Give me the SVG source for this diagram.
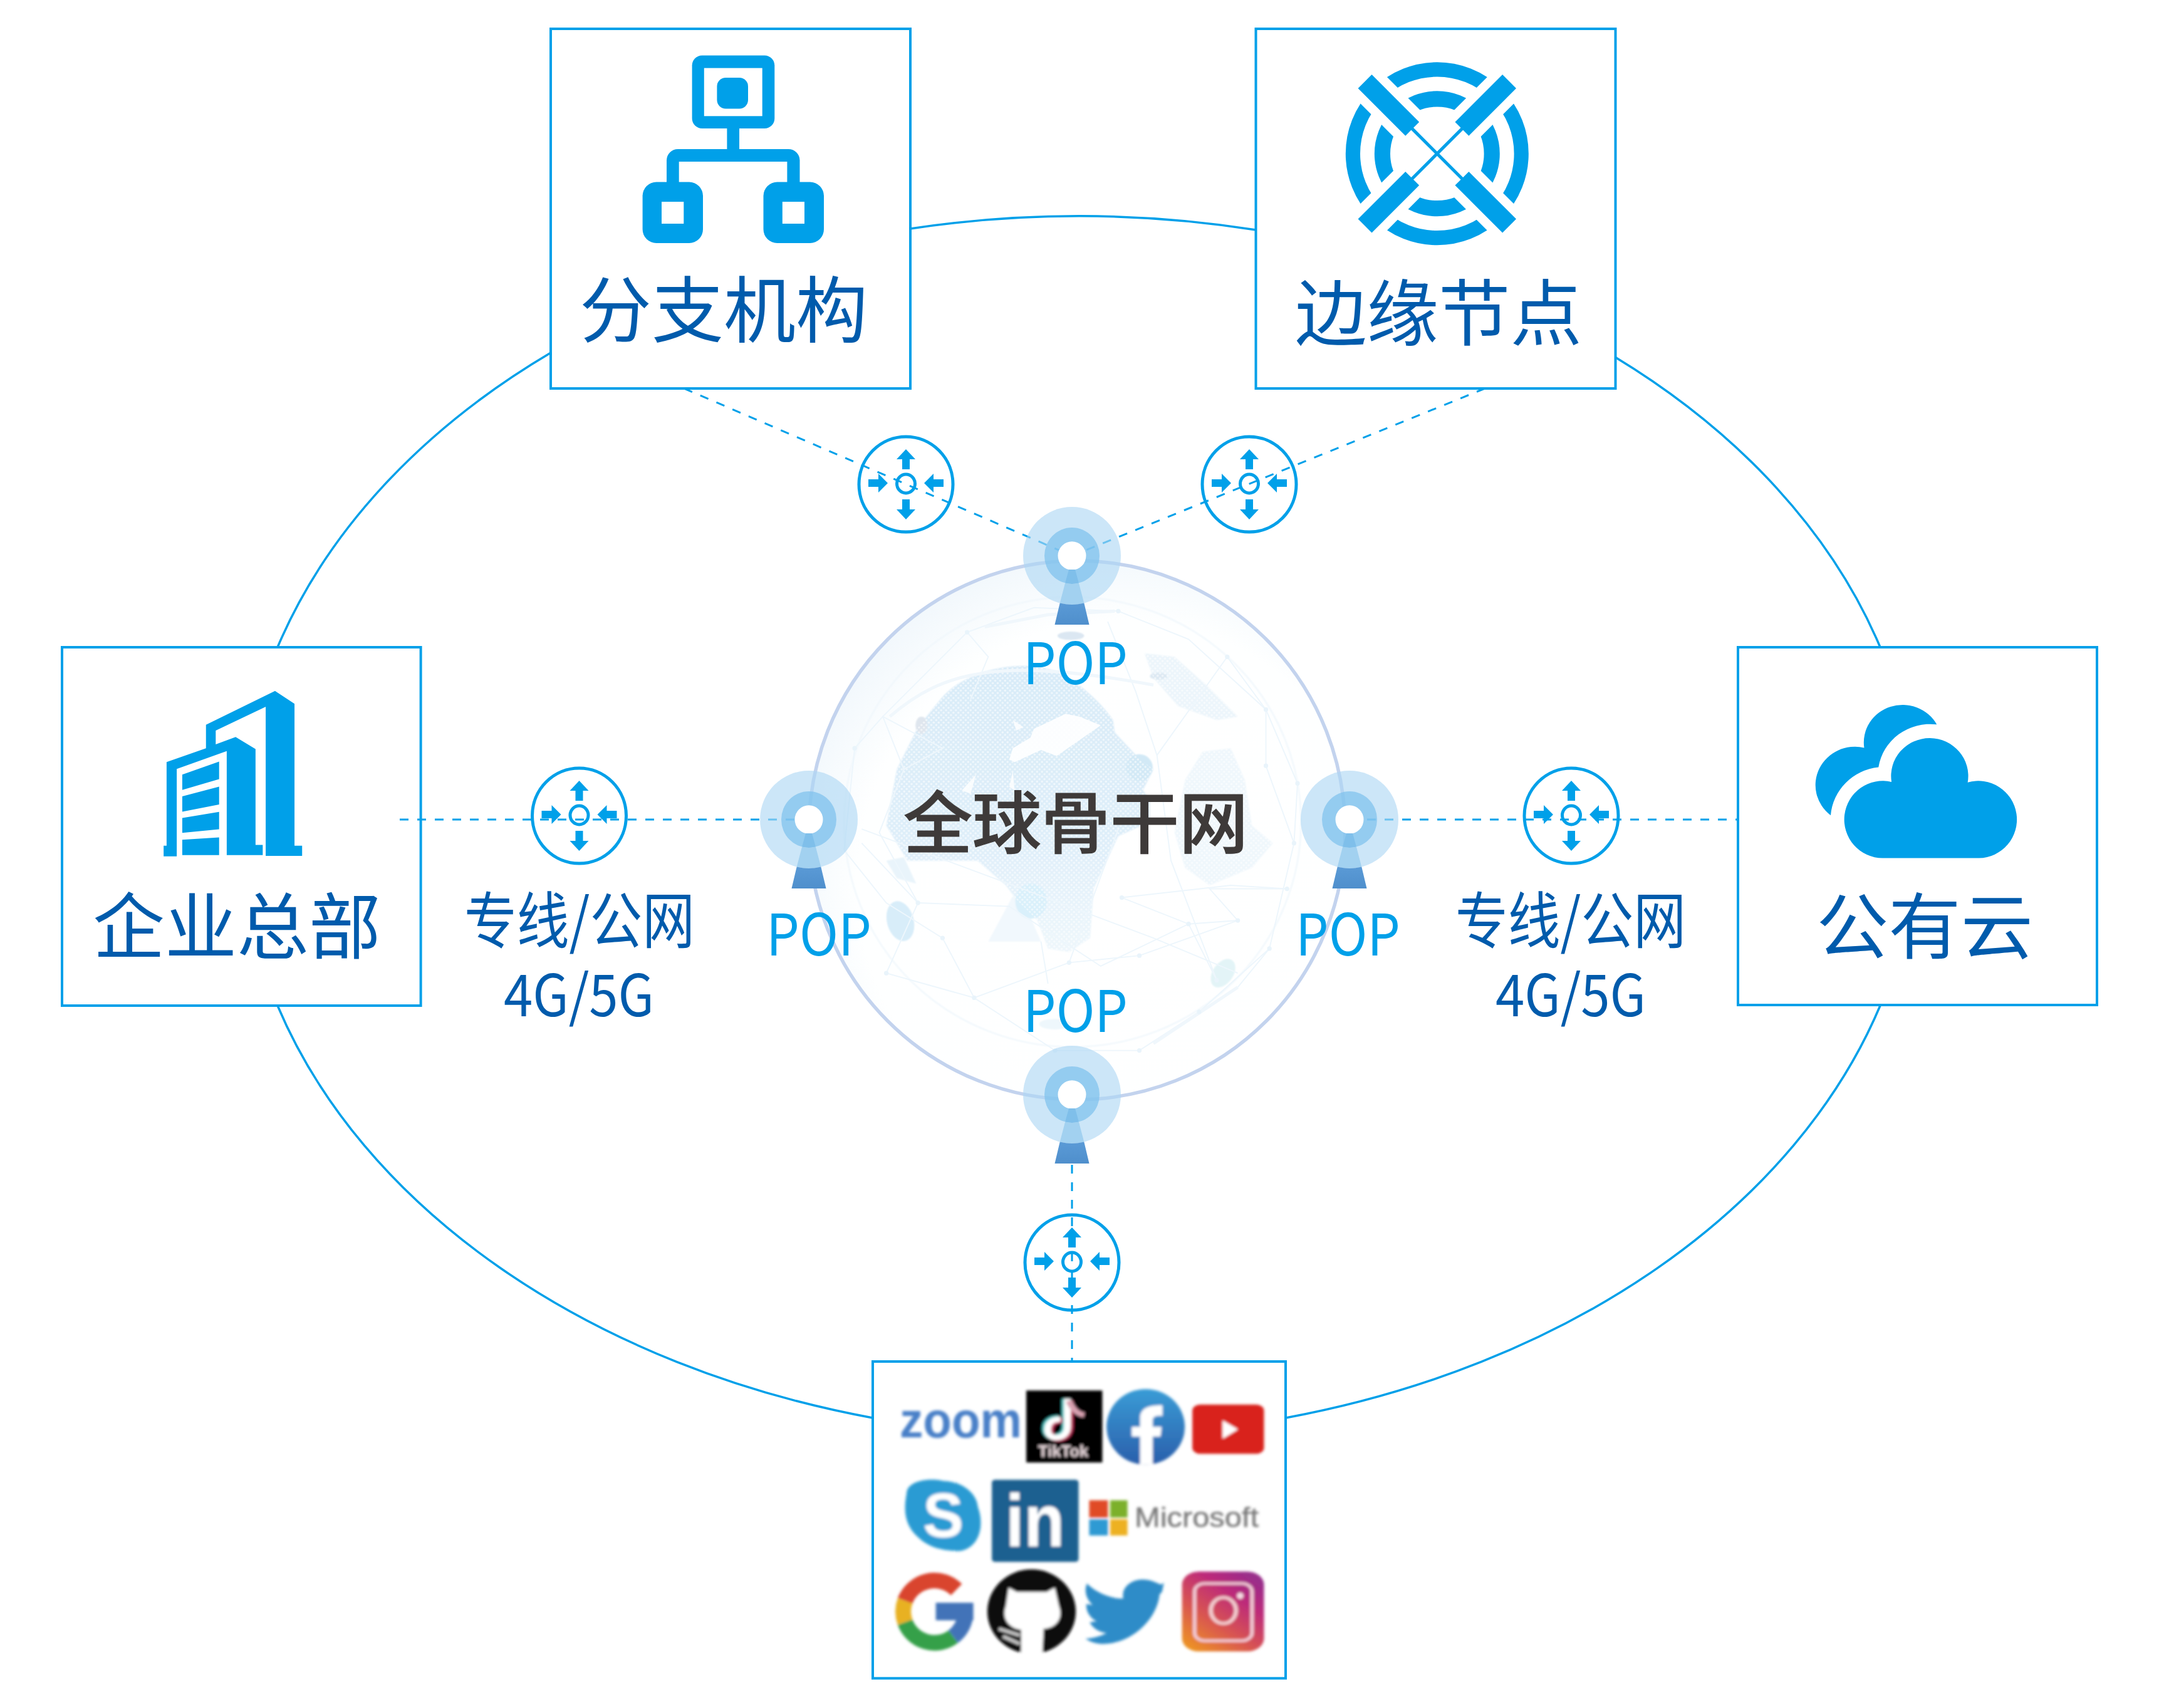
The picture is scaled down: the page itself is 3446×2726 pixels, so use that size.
<svg xmlns="http://www.w3.org/2000/svg" width="3446" height="2726" viewBox="0 0 3446 2726">
<style>
.box{fill:#fff;stroke:#00a0e9;stroke-width:4}
.line{fill:none;stroke:#00a0e9;stroke-width:3.5}
.dash{fill:none;stroke:#00a0e9;stroke-width:3;stroke-dasharray:14 14}
.ic{fill:#00a0e9}
.wh{fill:#fff}
.cjk{font-family:"Noto Sans CJK SC","Noto Sans",sans-serif}
.lab{font-size:115px;fill:#005bac}
.sub{font-size:98px;fill:#005bac}
.sub2{font-size:92px;fill:#005bac}
.pop{font-size:92px;fill:#00a0e9}
.mid{font-size:108px;fill:#3e3a39;stroke:#3e3a39;stroke-width:1.2;font-weight:500}
.logo{font-family:"Liberation Sans",Arial,sans-serif;font-weight:700}
.net{fill:none;stroke:#edf6fc;stroke-width:3.5}
.band{fill:none;stroke:#f0f7fc;stroke-width:9}
.dot{fill:none;stroke:#e9f4fb;stroke-width:13;stroke-linecap:round}
</style>
<defs>
<radialGradient id="sph" cx="0.58" cy="0.6" r="0.68">
<stop offset="0" stop-color="#fff"/><stop offset="0.72" stop-color="#feffff"/><stop offset="1" stop-color="#edf5fb"/>
</radialGradient>
<linearGradient id="landfill" x1="0" y1="0" x2="0" y2="1"><stop offset="0" stop-color="#d8ebf8"/><stop offset="0.6" stop-color="#deeef9"/><stop offset="1" stop-color="#eef7fc"/></linearGradient>
<linearGradient id="fb" x1="0" y1="0" x2="0" y2="1"><stop offset="0" stop-color="#3a9cd6"/><stop offset="1" stop-color="#2a5fab"/></linearGradient>
<linearGradient id="ig" x1="0.05" y1="1" x2="0.75" y2="0"><stop offset="0" stop-color="#ef9a1f"/><stop offset="0.4" stop-color="#d95650"/><stop offset="0.75" stop-color="#bd2a7a"/><stop offset="1" stop-color="#9a2d8a"/></linearGradient>
<linearGradient id="tw" x1="0" y1="0" x2="0" y2="1"><stop offset="0" stop-color="#5a9ad6"/><stop offset="1" stop-color="#4f8fcc"/></linearGradient>
<filter id="soft" x="-5%" y="-5%" width="110%" height="110%"><feGaussianBlur stdDeviation="2.2"/></filter>
<filter id="soft2" x="-5%" y="-5%" width="110%" height="110%"><feGaussianBlur stdDeviation="1.6"/></filter>
<pattern id="half" width="14" height="14" patternUnits="userSpaceOnUse"><circle cx="4" cy="4" r="3" fill="#fff" opacity="0.6"/><circle cx="11" cy="11" r="3" fill="#fff" opacity="0.6"/></pattern>
<g id="pin">
<ellipse rx="78" ry="78" fill="#acd7f3" opacity="0.62"/>
<ellipse rx="44" ry="45" fill="#7cc0ec" opacity="0.7"/>
<ellipse rx="22.5" ry="22.7" fill="#fff"/>
<path d="M-5 22L5 22L10.9 43.5A44 45 0 0 1 -10.9 43.5Z" fill="#7fbfea"/>
<path d="M-10.9 43.5A44 45 0 0 0 10.9 43.5L19.3 75.5A78 78 0 0 1 -19.3 75.5Z" fill="#a2d1f0"/>
<path d="M-19.3 75.5A78 78 0 0 0 19.3 75.5L27.5 110L-27.5 110Z" fill="url(#tw)"/>
</g>
<g id="router">
<ellipse rx="75" ry="76" fill="none" stroke="#00a0e9" stroke-width="5"/>
<ellipse cy="-1" rx="14.5" ry="15" fill="none" stroke="#00a0e9" stroke-width="5"/>
<path class="ic" d="M0 -56L15 -40L6 -40L6 -24L-6 -24L-6 -40L-15 -40Z"/>
<path class="ic" d="M0 56L15 40L6 40L6 24L-6 24L-6 40L-15 40Z"/>
<path class="ic" d="M-29 -2L-44 -17L-44 -8L-60 -8L-60 4L-44 4L-44 13Z"/>
<path class="ic" d="M29 -2L44 -17L44 -8L60 -8L60 4L44 4L44 13Z"/>
</g>
</defs>
<rect width="3446" height="2726" fill="#fff"/>

<g id="globe">
<ellipse cx="1719" cy="1325" rx="428" ry="430" fill="url(#sph)"/>
<g transform="translate(1280 880) scale(.561)">
<g filter="url(#soft2)">
<ellipse cx="770" cy="770" rx="650" ry="640" fill="none" stroke="#f0f7fc" stroke-width="4"/>
<path d="M395 420C450 350 600 300 720 340C790 370 860 440 885 480L890 515L960 590L1000 620L970 680L990 705L990 770L900 810L830 960L820 1100L760 1140L700 1130L670 1050L610 990L580 950L500 880L300 880L240 780L270 620L330 500Z" fill="url(#landfill)"/>
<path d="M1090 650L1140 570L1220 560L1260 650L1280 780L1340 830L1280 900L1160 950L1090 900L1060 800Z" fill="#eff7fc"/>
<path d="M975 290L1060 300L1150 380L1240 470L1180 480L1070 440L1000 360Z" fill="#ecf5fb"/>
<path d="M530 1110L600 980L650 1040L680 1110Z" fill="#f1f8fd"/>
<path d="M240 880L290 870L325 945L270 930Z" fill="#e9f4fb"/>
<ellipse cx="280" cy="1052" rx="38" ry="58" fill="#d8edf9" transform="rotate(-15 280 1052)"/>
<ellipse cx="1198" cy="1200" rx="29" ry="45" fill="#e3f4f7" transform="rotate(35 1198 1200)"/>
<ellipse cx="652" cy="995" rx="45" ry="50" fill="#d9f0fb"/>
<ellipse cx="960" cy="615" rx="38" ry="38" fill="#d2e9f6"/>
<ellipse cx="340" cy="495" rx="17" ry="25" fill="#dfe6ee"/>
<ellipse cx="765" cy="240" rx="38" ry="12" fill="#dbe7f2"/>
<ellipse cx="720" cy="1345" rx="45" ry="15" fill="#eef7fc"/>
<ellipse cx="1015" cy="355" rx="25" ry="10" fill="#dde9f3"/>
</g>
<path fill="url(#half)" d="M395 420C450 350 600 300 720 340C790 370 860 440 885 480L890 515L960 590L1000 620L970 680L990 705L990 770L900 810L830 960L820 1100L760 1140L700 1130L670 1050L610 990L580 950L500 880L300 880L240 780L270 620L330 500Z"/>
<path fill="url(#half)" d="M1090 650L1140 570L1220 560L1260 650L1280 780L1340 830L1280 900L1160 950L1090 900L1060 800Z"/>
<path fill="url(#half)" d="M975 290L1060 300L1150 380L1240 470L1180 480L1070 440L1000 360Z"/>
<path fill="#fff" opacity="0.9" d="M590 592L600 560L650 530L660 505L750 462L790 470L850 495L800 530L725 582L680 565L605 600Z"/>
<path fill="#fff" opacity="0.8" d="M600 480L630 500L610 510ZM455 680L495 635L480 690ZM590 670L600 625L605 680Z"/>
<path class="net" d="M230 470L470 230L660 160L900 170L1100 250L1320 450L1410 660L1400 830L1330 1130L1240 1240"/>
<path class="net" d="M150 560L230 470L290 620L220 800L330 1000L240 1200L490 1270L760 1170L960 1150L1240 1050"/>
<path class="net" d="M120 850L240 1000L400 1100L490 1270L720 1420L960 1420L1130 1310L1330 1130"/>
<path class="net" d="M170 790L600 950L1000 1100L1240 1200M170 830L330 1000L590 1010L850 1180L1100 1060L1240 1050L1160 960L1380 960"/>
<path class="net" d="M910 985L1100 1060L1180 1220L1050 880L1010 580L950 400L870 200M900 790L760 1170M680 1110L700 1230M910 985L1220 950L1380 960"/>
<path class="net" d="M470 230L530 300L480 420M1010 580L1210 300L1320 450L1320 610L1400 830M230 470L400 560L290 620M150 560L120 850"/>
<path class="band" d="M250 470C400 340 560 300 1000 380M520 215L700 180L890 170M1000 1400L1240 1240"/>
<path class="dot" d="M490 1270h0M760 1170h0M960 1150h0M1240 1050h0M1100 1060h0M910 985h0M1180 1220h0M1320 610h0M1410 660h0M1400 830h0M1330 1130h0M1210 300h0M1320 450h0M240 1200h0M330 1000h0M400 1100h0M720 1420h0M960 1420h0M1130 1310h0M470 230h0M900 170h0M150 560h0M1380 960h0"/>
</g>
<ellipse cx="1719" cy="1325" rx="428" ry="430" fill="none" stroke="#c3d3ee" stroke-width="5.5"/>
</g>

<g id="node-branch">
<rect class="box" x="879" y="46" width="574" height="574"/>
<rect class="ic" x="1104.6" y="88.6" width="131.7" height="116.4" rx="16"/>
<rect class="wh" x="1123.8" y="108.6" width="92.9" height="76.7"/>
<rect class="ic" x="1144.4" y="124" width="49.6" height="49.5" rx="14"/>
<path class="ic" d="M1160.4 205H1180V238H1258.5A18 18 0 0 1 1276.5 256V292H1256.4V258H1083.7V292H1064V256A18 18 0 0 1 1082 238H1160.4Z"/>
<rect class="ic" x="1025.6" y="290.6" width="96.4" height="97.4" rx="22"/>
<rect class="wh" x="1056" y="322" width="35.3" height="35"/>
<rect class="ic" x="1218.5" y="290.6" width="96.5" height="97.4" rx="22"/>
<rect class="wh" x="1248.8" y="322" width="35.2" height="35"/>
<text class="cjk lab" x="925" y="537" textLength="460" lengthAdjust="spacingAndGlyphs">分支机构</text>
</g>

<g id="node-edge">
<rect class="box" x="2004.5" y="46" width="574" height="574"/>
<g transform="translate(2293.8 245.3)">
<circle r="134.4" fill="none" stroke="#00a0e9" stroke-width="23.2"/>
<circle r="87.4" fill="none" stroke="#00a0e9" stroke-width="25.2"/>
<g transform="rotate(45)">
<rect class="wh" x="-170" y="-30" width="340" height="60"/>
<rect class="wh" x="-30" y="-170" width="60" height="340"/>
<rect class="ic" x="-163" y="-15.5" width="107" height="31"/>
<rect class="ic" x="56" y="-15.5" width="107" height="31"/>
<rect class="ic" x="-15.5" y="-163" width="31" height="107"/>
<rect class="ic" x="-15.5" y="56" width="31" height="107"/>
<rect class="ic" x="-60" y="-2.5" width="120" height="5"/>
<rect class="ic" x="-2.5" y="-60" width="5" height="120"/>
</g>
</g>
<text class="cjk lab" x="2067" y="542" textLength="458" lengthAdjust="spacingAndGlyphs">边缘节点</text>
</g>

<g id="node-hq">
<rect class="box" x="99" y="1033" width="572.6" height="572"/>
<g transform="translate(80 1020) scale(.676 .408)">
<path class="ic" d="M531 203L577 253V808H595V848H509V265L391 358V412L438 383L485 430V805H502V845H417V438L299 508V850H268V808H275V481L368 427V335Z"/>
<path class="ic" d="M312 530L399 479V548L312 590ZM312 615L399 577V647L312 675ZM312 700L399 676V744L312 758ZM312 785L399 776V845H312Z"/>
</g>
<text class="cjk lab" x="148" y="1521" textLength="460" lengthAdjust="spacingAndGlyphs">企业总部</text>
</g>

<g id="node-cloud">
<rect class="box" x="2774" y="1033" width="573" height="571"/>
<g transform="translate(2760 1020) scale(.408 .395)">
<path class="ic" d="M600 885A151 156 0 1 1 635 577A151 153 0 1 1 933 579A151 156 0 1 1 977 885Z"/>
<path class="ic" d="M397 712A155 155 0 0 1 528 439A152 152 0 0 1 812 345A205 205 0 0 0 584 518A210 212 0 0 0 397 712Z"/>
</g>
<text class="cjk lab" x="2899" y="1521" textLength="346" lengthAdjust="spacingAndGlyphs">公有云</text>
</g>

<g id="node-apps">
<rect class="box" x="1393" y="2173" width="659" height="505.6"/>
<g filter="url(#soft)">
<text class="logo" x="1436" y="2294" font-size="80" fill="#4a80c8" textLength="195" lengthAdjust="spacingAndGlyphs">zoom</text>
<g transform="translate(1380 2160) scale(.4464 .3448)">
<rect x="578" y="172" width="272" height="333" fill="#000"/>
<path d="M718 210V340C718 400 643 400 648 345C648 310 673 300 693 300" fill="none" stroke="#4cc6c4" stroke-width="26"/>
<path d="M733 220V340C733 410 658 410 663 355C663 320 688 310 708 310" fill="none" stroke="#c2325c" stroke-width="26"/>
<path d="M725 210V340C725 405 650 405 655 350C655 315 680 305 700 305" fill="none" stroke="#fff" stroke-width="24"/>
<path d="M730 220C745 260 760 280 785 285" fill="none" stroke="#d8a0b0" stroke-width="22"/>
<ellipse cx="1005" cy="340" rx="140" ry="175" fill="url(#fb)"/>
<path fill="#fff" d="M985 515V385H955V340H985V300C985 250 1020 240 1065 240V290C1040 285 1030 295 1030 310V340H1062L1058 385H1030V515Z"/>
<rect x="1172" y="237" width="256" height="228" rx="28" fill="#d9231c"/>
<path fill="#fff" d="M1280 310L1335 352L1280 395Z"/>
<path fill="#2a9bd3" d="M150 650C150 590 230 575 280 590C340 590 400 640 405 710C430 800 410 900 340 915C280 915 230 900 190 850C140 790 140 720 150 650Z"/>
<rect x="455" y="585" width="310" height="380" rx="12" fill="#1a6090"/>
<rect x="803" y="680" width="67" height="80" fill="#e04b25"/>
<rect x="878" y="680" width="62" height="80" fill="#7cb02c"/>
<rect x="803" y="768" width="67" height="75" fill="#2d9ad3"/>
<rect x="878" y="768" width="62" height="75" fill="#edb122"/>
<path fill="#2f8cc8" d="M795 1065C830 1110 880 1135 925 1135C915 1080 960 1040 1005 1048C1030 1050 1045 1065 1060 1070L1070 1062L1065 1095C1065 1105 1060 1110 1055 1115C1045 1230 960 1340 855 1345C830 1345 805 1335 790 1320C820 1320 850 1305 865 1295C835 1290 815 1270 805 1245L830 1240C805 1225 790 1190 793 1160L815 1165C790 1135 785 1095 795 1065Z"/>
<rect x="1135" y="1010" width="293" height="370" rx="60" fill="url(#ig)"/>
<rect x="1180" y="1065" width="205" height="265" rx="36" fill="none" stroke="#f3cdd8" stroke-width="12"/>
<ellipse cx="1283" cy="1190" rx="45" ry="60" fill="none" stroke="#f3cdd0" stroke-width="14"/>
<ellipse cx="1343" cy="1122" rx="12" ry="15" fill="#f6dbe4"/>
</g>
<text class="logo" x="1657" y="2325" font-size="26" fill="#e8d8dc" textLength="80" lengthAdjust="spacingAndGlyphs">TikTok</text>
<text class="logo" x="1473" y="2453" font-size="100" fill="#fff" textLength="65" lengthAdjust="spacingAndGlyphs">S</text>
<text class="logo" x="1605" y="2468" font-size="118" fill="#fff" textLength="94" lengthAdjust="spacingAndGlyphs">in</text>
<text x="1811" y="2437" font-family="Liberation Sans,Arial,sans-serif" font-size="45" fill="#777" stroke="#888" stroke-width="0.6" textLength="198" lengthAdjust="spacingAndGlyphs">Microsoft</text>
<g transform="translate(1491.6 2572)" fill="none" stroke-width="25">
<path d="M35 -35A50 50 0 0 0 -47 -17" stroke="#d9442f"/>
<path d="M-47 -17A50 50 0 0 0 -47 17" stroke="#e8b122"/>
<path d="M-47 17A50 50 0 0 0 30 40" stroke="#35a04a"/>
<path d="M30 40A50 50 0 0 0 49 8" stroke="#4373b8"/>
<rect x="2" y="-14" width="60" height="28" fill="#4373b8" stroke="none"/>
</g>
<g transform="translate(1380 2160) scale(.4464 .3448)">
<ellipse cx="597" cy="1195" rx="158" ry="195" fill="#111"/>
<path fill="#fff" d="M515 1085L545 1105H650L680 1085L695 1170C710 1220 690 1270 640 1275L635 1400H560L560 1280C510 1270 490 1220 505 1170Z"/>
<path d="M480 1275L555 1305M495 1310L555 1345" fill="none" stroke="#ccc" stroke-width="14"/>
</g>
</g>
</g>

<g id="connectors">
<path class="line" d="M1453 365A1338 974 0 0 1 2005 367"/>
<path class="line" d="M2578 570A1338 974 0 0 1 3001 1033"/>
<path class="line" d="M3001 1605A1338 974 0 0 1 2052 2263"/>
<path class="line" d="M1393 2263A1338 974 0 0 1 443 1605"/>
<path class="line" d="M443 1033A1338 974 0 0 1 879 563"/>
<path class="dash" d="M1092 620L1711 887"/>
<path class="dash" d="M2370 620L1711 887"/>
<path class="dash" d="M638 1308H1291"/>
<path class="dash" d="M2154 1308H2774"/>
<path class="dash" d="M1711 1747V2173"/>
</g>

<g id="router-top-left"><use href="#router" x="1446" y="773"/></g>
<g id="router-top-right"><use href="#router" x="1994" y="773"/></g>
<g id="router-left"><use href="#router" x="924.5" y="1302"/></g>
<g id="router-right"><use href="#router" x="2508" y="1302"/></g>
<g id="router-bottom"><use href="#router" x="1711" y="2015"/></g>

<g id="pop-top"><use href="#pin" x="1711" y="887"/><text class="cjk pop" x="1633" y="1092" textLength="167" lengthAdjust="spacingAndGlyphs">POP</text></g>
<g id="pop-left"><use href="#pin" x="1291" y="1308"/><text class="cjk pop" x="1223" y="1525" textLength="168" lengthAdjust="spacingAndGlyphs">POP</text></g>
<g id="pop-right"><use href="#pin" x="2154" y="1308"/><text class="cjk pop" x="2068" y="1525" textLength="167" lengthAdjust="spacingAndGlyphs">POP</text></g>
<g id="pop-bottom"><use href="#pin" x="1711" y="1747"/><text class="cjk pop" x="1633" y="1647" textLength="167" lengthAdjust="spacingAndGlyphs">POP</text></g>

<text id="label-backbone" class="cjk mid" x="1442" y="1353" textLength="550" lengthAdjust="spacingAndGlyphs">全球骨干网</text>

<g id="label-left">
<text class="cjk sub" x="741" y="1505" textLength="368" lengthAdjust="spacingAndGlyphs">专线/公网</text>
<text class="cjk sub2" x="804" y="1622" textLength="240" lengthAdjust="spacingAndGlyphs">4G/5G</text>
</g>
<g id="label-right">
<text class="cjk sub" x="2323" y="1505" textLength="368" lengthAdjust="spacingAndGlyphs">专线/公网</text>
<text class="cjk sub2" x="2387" y="1622" textLength="240" lengthAdjust="spacingAndGlyphs">4G/5G</text>
</g>
</svg>
